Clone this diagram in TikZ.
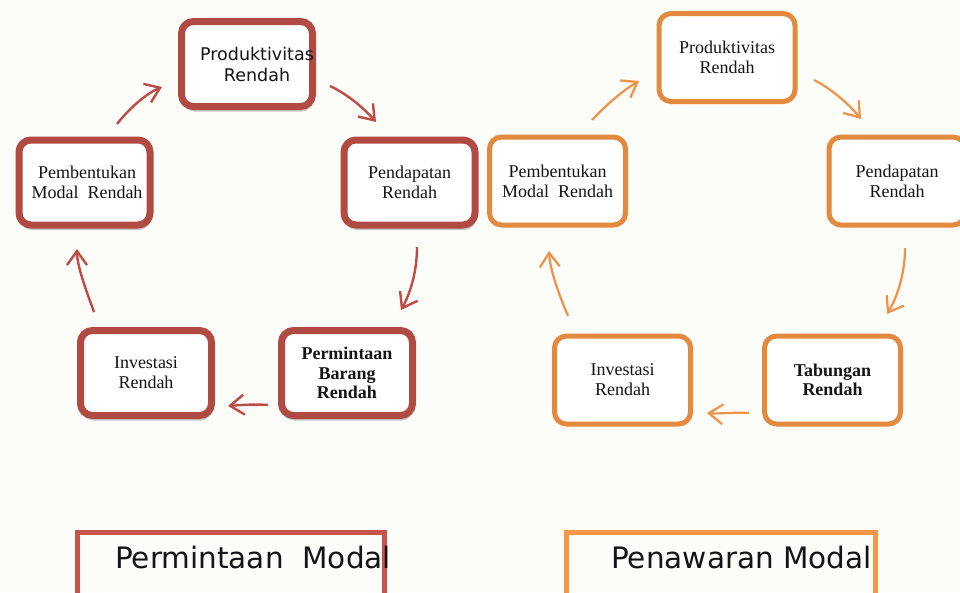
\documentclass[tikz,border=0pt]{standalone}
\usepackage{fontspec}
\setmainfont{Liberation Serif}
\newfontfamily\dejavu{DejaVu Sans}
\usetikzlibrary{arrows.meta,shadows}
\definecolor{bgc}{RGB}{252,252,249}
\definecolor{redc}{RGB}{178,74,68}
\definecolor{redarrow}{RGB}{190,75,70}
\definecolor{redlite}{RGB}{200,82,76}
\definecolor{orc}{RGB}{228,138,62}
\definecolor{orarrow}{RGB}{240,145,70}
\definecolor{orlite}{RGB}{246,150,72}
\definecolor{txt}{RGB}{20,20,20}
\tikzset{
  boxtext/.style={align=center, text=txt, font=\fontsize{18}{20}\selectfont},
  redbox/.style={boxtext, draw=redc, line width=7pt, rounded corners=12pt, fill=white,
    minimum width=131pt, minimum height=85pt, inner sep=0pt,
    drop shadow={shadow xshift=1pt, shadow yshift=-5pt, opacity=0.3, fill=black!70}},
  orbox/.style={boxtext, draw=orc, line width=5pt, rounded corners=12pt, fill=white,
    minimum width=136pt, minimum height=88pt, inner sep=0pt},
  redarr/.style={draw=redarrow, line width=2.4pt, -{Straight Barb[length=14pt,width=20pt]}},
  orarr/.style={draw=orarrow, line width=2.2pt, -{Straight Barb[length=14pt,width=20pt]}},
  bigsans/.style={text=txt, font=\dejavu\fontsize{29.5}{34}\selectfont, inner sep=0pt, anchor=base west},
}
\begin{document}
\begin{tikzpicture}[x=1pt,y=-1pt]
\path[use as bounding box, fill=bgc] (0,0) rectangle (960,592);
\clip (0,0) rectangle (960,592);

% ---------- left (red) cycle ----------
\node[redbox] (rProd) at (247,64) {};
\node[boxtext, font=\dejavu\fontsize{17.5}{21}\selectfont, inner sep=0pt] (rProdT) at (257,64) {Produktivitas\\Rendah};
\node[redbox] (rPend) at (409.5,182.5) {Pendapatan\\Rendah};
\node[redbox] (rPemb) at (84.5,182.5) {\hspace*{5pt}Pembentukan\\\hspace*{5pt}Modal\ \ Rendah};
\node[redbox] (rInv) at (146,373) {Investasi\\Rendah};
\node[redbox, font=\bfseries\fontsize{18}{19.5}\selectfont] (rPerm) at (347,373) {Permintaan\\Barang\\Rendah};

\coordinate (r1s) at (117,124); \coordinate (r1e) at (162,87);
\coordinate (r2s) at (330,86);  \coordinate (r2e) at (376,122);
\coordinate (r3s) at (417,247); \coordinate (r3e) at (401,310);
\coordinate (r4s) at (268,405); \coordinate (r4e) at (228,406);
\coordinate (r5s) at (94,312);  \coordinate (r5e) at (77,249);
\draw[redarr] (r1s) .. controls (128,110) and (145,94) .. (r1e);
\draw[redarr] (r2s) .. controls (345,93) and (362,106) .. (r2e);
\draw[redarr] (r3s) .. controls (417,270) and (411,292) .. (r3e);
\draw[redarr] (r4s) .. controls (255,404) and (240,405) .. (r4e);
\draw[redarr] (r5s) .. controls (86,290) and (77,266) .. (r5e);

% ---------- right (orange) cycle ----------
\node[orbox] (oProd) at (727,57.5) {Produktivitas\\Rendah};
\node[orbox] (oPemb) at (557.5,181) {Pembentukan\\Modal\ \ Rendah};
\node[orbox] (oPend) at (897,181) {Pendapatan\\Rendah};
\node[orbox] (oInv) at (622.5,380) {Investasi\\Rendah};
\node[orbox, font=\bfseries\fontsize{18}{19.5}\selectfont] (oTab) at (832.5,380) {Tabungan\\Rendah};

\coordinate (o1s) at (592,120); \coordinate (o1e) at (639,81);
\coordinate (o2s) at (814,80);  \coordinate (o2e) at (861,119);
\coordinate (o3s) at (905,248); \coordinate (o3e) at (887,314);
\coordinate (o4s) at (749,413); \coordinate (o4e) at (707,413);
\coordinate (o5s) at (568,316); \coordinate (o5e) at (549,251);
\draw[orarr] (o1s) .. controls (604,107) and (622,91) .. (o1e);
\draw[orarr] (o2s) .. controls (830,88) and (848,103) .. (o2e);
\draw[orarr] (o3s) .. controls (905,272) and (898,296) .. (o3e);
\draw[orarr] (o4s) .. controls (735,412) and (720,414) .. (o4e);
\draw[orarr] (o5s) .. controls (559,295) and (550,270) .. (o5e);

% ---------- bottom labels ----------
\node[draw=redlite, line width=5pt, minimum width=307pt, minimum height=100pt, anchor=north west, inner sep=0pt] (pmBox) at (74.5,529.5) {};
\node[draw=orlite, line width=5pt, minimum width=309pt, minimum height=100pt, anchor=north west, inner sep=0pt] (pwBox) at (563.5,529.5) {};
\node[bigsans] (pmText) at (115,568) {Permintaan\ \ Modal};
\node[bigsans] (pwText) at (611,568) {Penawaran Modal};
\end{tikzpicture}
\end{document}
